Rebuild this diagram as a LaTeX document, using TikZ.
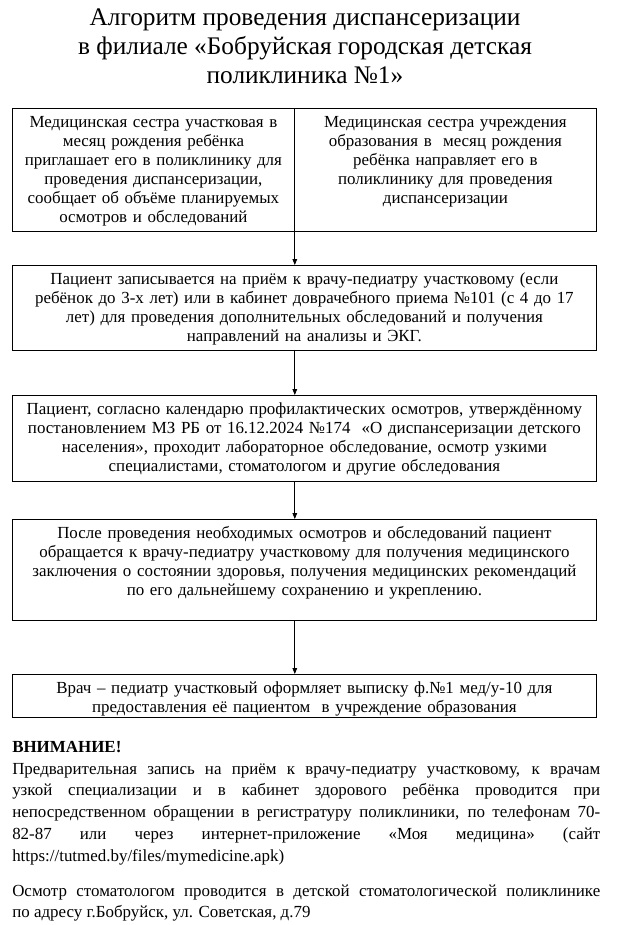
\documentclass[tikz,border=0pt]{standalone}
\usepackage{fontspec}
\setmainfont{Liberation Serif}
\usetikzlibrary{arrows.meta}

\tikzset{
  stepbox/.style={draw, line width=0.6pt, anchor=north west, align=center,
    inner xsep=2pt, inner ysep=3.2pt, text height=11.1pt,
    font=\fontsize{12.7}{14.25}\selectfont},
  flow/.style={line width=0.6pt, -{Triangle[length=4.5pt,width=3.5pt]}},
}

\begin{document}
\begin{tikzpicture}[x=0.75pt,y=-0.75pt]
    \useasboundingbox (0,0) rectangle (631,925);

    \node[align=center, font=\fontsize{19}{21.75}\selectfont] (title) at (305,46)
      {Алгоритм проведения диспансеризации\\
       в филиале «Бобруйская городская детская\\
       поликлиника №1»};

    % верхняя таблица из двух ячеек
    \node[stepbox, text width=207.5pt, text depth=74.75pt] (nurse) at (12,108)
      {Медицинская сестра участковая в\\
       месяц рождения ребёнка\\
       приглашает его в поликлинику для\\
       проведения диспансеризации,\\
       сообщает об объёме планируемых\\
       осмотров и обследований};
    \node[stepbox, text width=222.5pt, text depth=74.75pt] (school) at (294,108)
      {Медицинская сестра учреждения\\
       образования в~ месяц рождения\\
       ребёнка направляет его в\\
       поликлинику для проведения\\
       диспансеризации};

    \node[stepbox, text width=434pt, text depth=46.25pt] (signup) at (12,265)
      {Пациент записывается на приём к врачу-педиатру участковому (если\\
       ребёнок до 3-х лет) или в кабинет доврачебного приема №101 (с 4 до 17\\
       лет) для проведения дополнительных обследований и получения\\
       направлений на анализы и ЭКГ.};

    \node[stepbox, text width=434pt, text depth=47pt] (exams) at (12,395)
      {Пациент, согласно календарю профилактических осмотров, утверждённому\\
       постановлением МЗ РБ от 16.12.2024 №174~ «О диспансеризации детского\\
       населения», проходит лабораторное обследование, осмотр узкими\\
       специалистами, стоматологом и другие обследования};

    \node[stepbox, text width=434pt, text depth=58.25pt] (verdict) at (12,519)
      {После проведения необходимых осмотров и обследований пациент\\
       обращается к врачу-педиатру участковому для получения медицинского\\
       заключения о состоянии здоровья, получения медицинских рекомендаций\\
       по его дальнейшему сохранению и укреплению.};

    \node[stepbox, text width=434pt, text depth=15pt] (extract) at (12,674)
      {Врач – педиатр участковый оформляет выписку ф.№1 мед/у-10 для\\
       предоставления её пациентом~ в учреждение образования};

    % стрелки
    \draw[flow] (nurse.south east) -- (signup.north -| nurse.south east);
    \draw[flow] (signup.south -| nurse.south east) -- (exams.north -| nurse.south east);
    \draw[flow] (exams.south -| nurse.south east) -- (verdict.north -| nurse.south east);
    \draw[flow] (verdict.south -| nurse.south east) -- (extract.north -| nurse.south east);

    \node[anchor=north west, inner sep=0pt, text width=441pt, align=justify,
          font=\fontsize{12.7}{16.3}\selectfont] (note) at (12,741)
      {\hyphenpenalty=10000\exhyphenpenalty=10000
       {\bfseries ВНИМАНИЕ!}\\
       Предварительная запись на приём к врачу-педиатру участковому, к врачам\linebreak
       узкой специализации и в кабинет здорового ребёнка проводится при\linebreak
       непосредственном обращении в регистратуру поликлиники, по телефонам 70-\linebreak
       82-87 или через интернет-приложение «Моя медицина» (сайт\linebreak
       https://tutmed.by/files/mymedicine.apk)\par
       \vspace{10pt}
       Осмотр стоматологом проводится в детской стоматологической поликлинике\linebreak
       по адресу г.Бобруйск, ул. Советская, д.79};
\end{tikzpicture}
\end{document}
